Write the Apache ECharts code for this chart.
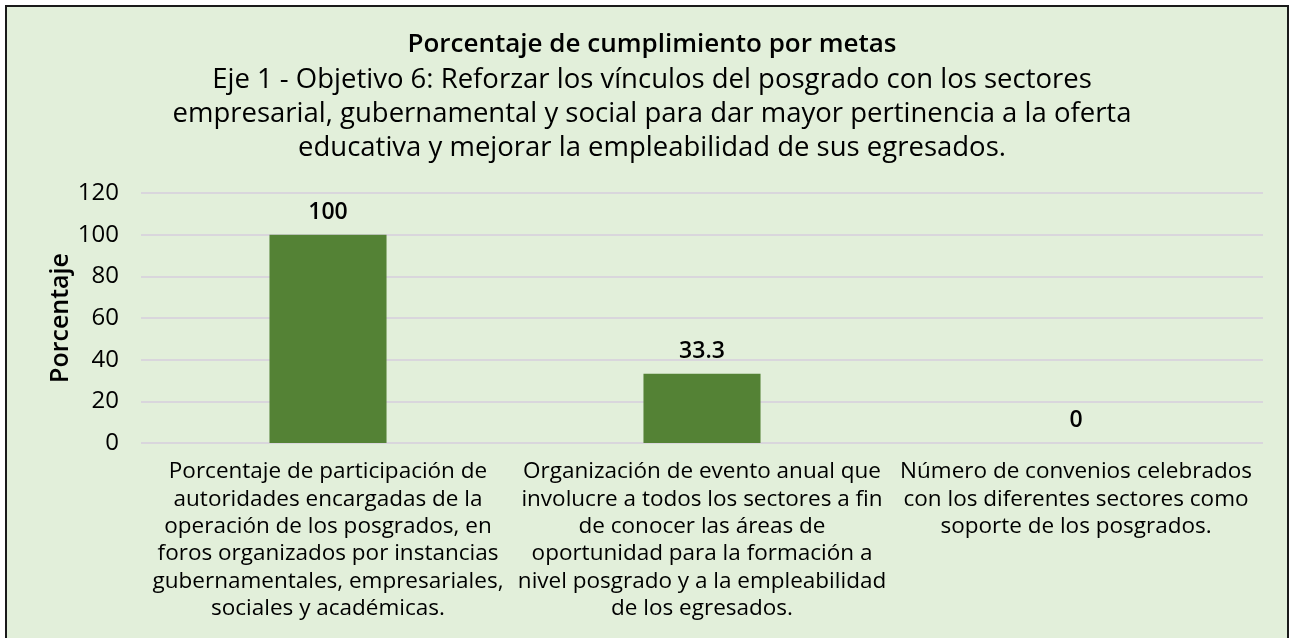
<!DOCTYPE html>
<html>
<head>
<meta charset="utf-8">
<script src="https://cdn.jsdelivr.net/npm/echarts@6/dist/echarts.min.js"></script>
<style>
html,body{margin:0;padding:0;background:#ffffff;}
#main{width:1293px;height:638px;}
</style>
</head>
<body>
<div id="main"></div>
<script>
var categories = [
  "Porcentaje de participación de\nautoridades encargadas de la\noperación de los posgrados, en\nforos organizados por instancias\ngubernamentales, empresariales,\nsociales y académicas.",
  "Organización de evento anual que\ninvolucre a todos los sectores a fin\nde conocer las áreas de\noportunidad para la formación a\nnivel posgrado y a la empleabilidad\nde los egresados.",
  "Número de convenios celebrados\ncon los diferentes sectores como\nsoporte de los posgrados."
];
var values = [100, 33.3, 0];
var yTicks = [0, 20, 40, 60, 80, 100, 120];
var titleText = "Porcentaje de cumplimiento por metas";
var subtitleText = "Eje 1 - Objetivo 6: Reforzar los vínculos del posgrado con los sectores\nempresarial, gubernamental y social para dar mayor pertinencia a la oferta\neducativa y mejorar la empleabilidad de sus egresados.";
var yAxisName = "Porcentaje";

var FONT = "Open Sans";
var chart = echarts.init(document.getElementById('main'), null, {renderer: 'canvas'});
chart.setOption({
  animation: false,
  backgroundColor: '#ffffff',
  graphic: [{
    type: 'rect', z: -10, silent: true,
    shape: {x: 6, y: 6, width: 1282, height: 640},
    style: {fill: '#e2efda', stroke: '#1a1a1a', lineWidth: 2}
  }],
  title: [{
    text: titleText,
    left: 647, top: 27, textAlign: 'center',
    textStyle: {fontFamily: FONT, fontSize: 26, fontWeight: 600, color: '#000000'}
  }, {
    text: subtitleText,
    left: 647, top: 58, textAlign: 'center',
    textStyle: {fontFamily: FONT, fontSize: 27.5, fontWeight: 'normal', color: '#000000', lineHeight: 34}
  }],
  grid: {left: 141, right: 30, top: 193, bottom: 195, containLabel: false},
  xAxis: {
    type: 'category',
    data: categories,
    axisLine: {show: false},
    axisTick: {show: false},
    axisLabel: {
      interval: 0, margin: 15,
      fontFamily: FONT, fontSize: 22.5, color: '#000000', lineHeight: 27.4, align: 'center'
    }
  },
  yAxis: {
    type: 'value', min: yTicks[0], max: yTicks[yTicks.length - 1], interval: 20,
    name: yAxisName, nameLocation: 'middle', nameGap: 68, nameMoveOverlap: false,
    nameTextStyle: {fontFamily: FONT, fontSize: 25, fontWeight: 600, color: '#000000'},
    axisLine: {show: false}, axisTick: {show: false},
    axisLabel: {fontFamily: FONT, fontSize: 24, color: '#000000', margin: 22},
    splitLine: {lineStyle: {color: '#d9d6dc', width: 2}}
  },
  series: [{
    type: 'bar',
    data: values,
    barWidth: '31.3%',
    itemStyle: {color: '#548235'},
    label: {
      show: true, position: 'top', distance: 11,
      fontFamily: FONT, fontSize: 23, fontWeight: 600, color: '#000000'
    }
  }]
});
</script>
</body>
</html>
